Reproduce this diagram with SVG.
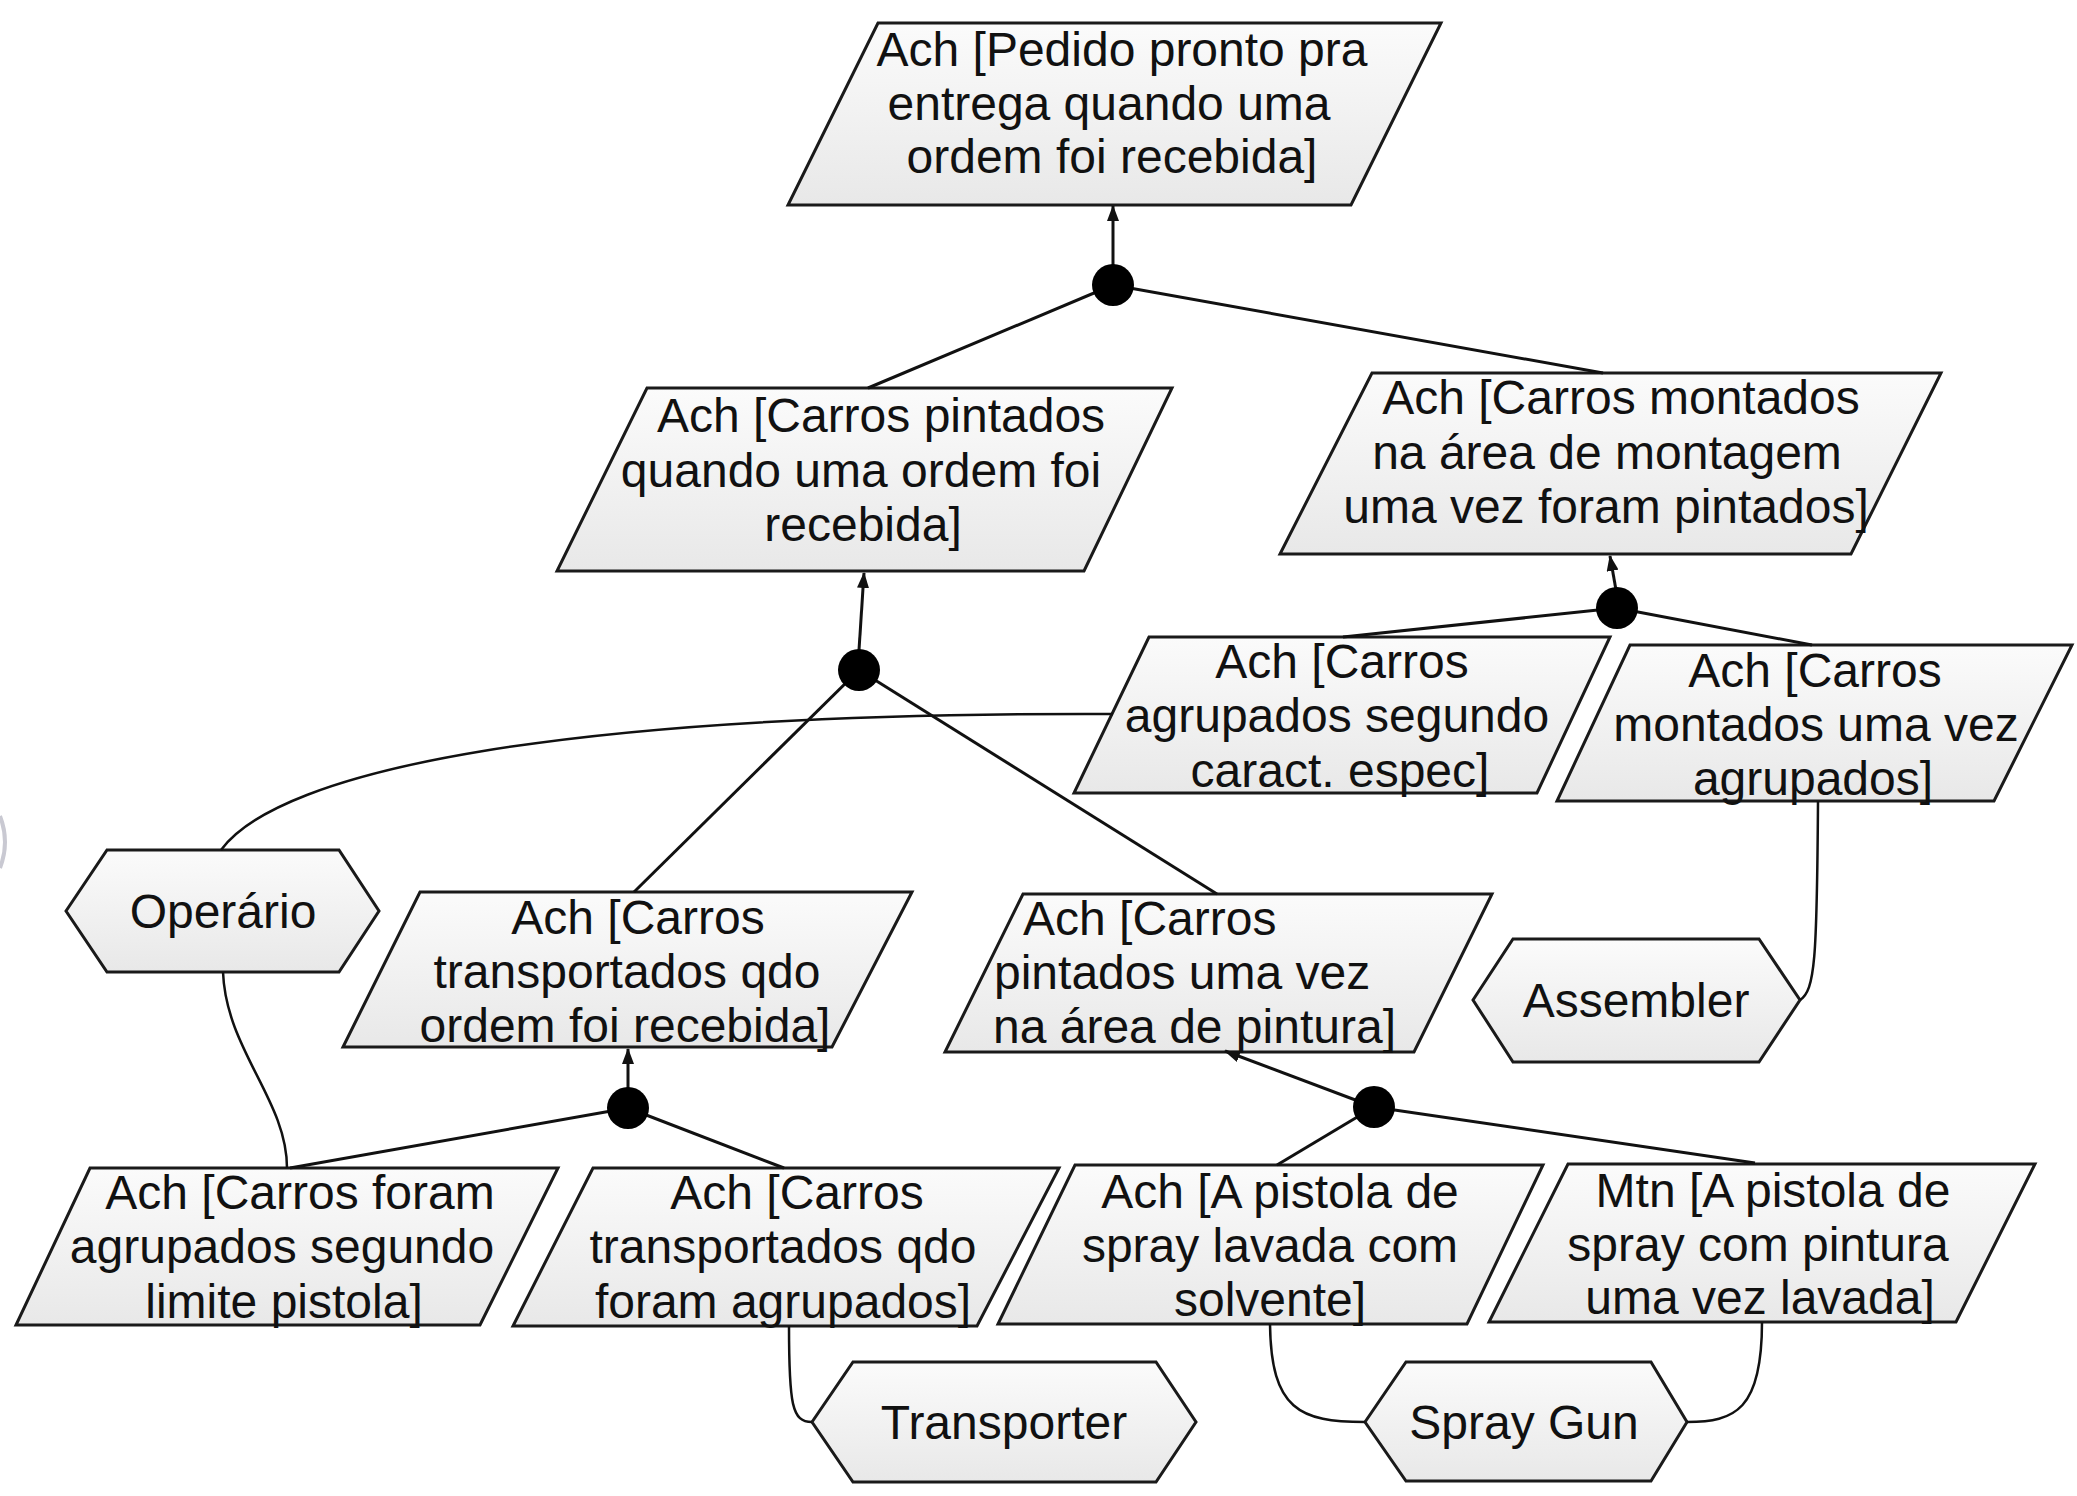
<svg xmlns="http://www.w3.org/2000/svg" width="2077" height="1496" viewBox="0 0 2077 1496">
  <defs>
    <linearGradient id="fillGrad" x1="0" y1="0" x2="0" y2="1">
      <stop offset="0" stop-color="#fbfbfb"/>
      <stop offset="1" stop-color="#e8e8e8"/>
    </linearGradient>
    <marker id="arrow" markerUnits="userSpaceOnUse" markerWidth="16" markerHeight="12" refX="15" refY="6" orient="auto">
      <path d="M0,0 L16,6 L0,12 z" fill="#111"/>
    </marker>
    <style>
      .shape { fill: url(#fillGrad); stroke: #1a1a1a; stroke-width: 3; stroke-linejoin: miter; }
      .lbl { font-family: "Liberation Sans", Arial, sans-serif; font-size: 48px; fill: #111; text-anchor: middle; }
      .lbl-left { text-anchor: start; }
      .link { fill: none; stroke: #111; stroke-width: 3; }
      .actor-link { fill: none; stroke: #111; stroke-width: 2.5; }
      .arrow { marker-end: url(#arrow); }
      .junction { fill: #000; }
    </style>
  </defs>

  <rect width="2077" height="1496" fill="#ffffff"/>

  <!-- faint arc cut by the left border -->
  <path d="M0,816 Q10,842 0,868" fill="none" stroke="#c9c9d2" stroke-width="4"/>

  <!-- goals -->
  <g id="goal-pedido-pronto">
    <polygon class="shape" points="878,23 1441,23 1351,205 788,205"/>
    <text class="lbl" x="1122" y="66">Ach [Pedido pronto pra</text>
    <text class="lbl" x="1109" y="120">entrega quando uma</text>
    <text class="lbl" x="1112" y="173">ordem foi recebida]</text>
  </g>

  <g id="goal-carros-pintados">
    <polygon class="shape" points="647,388 1172,388 1084,571 557,571"/>
    <text class="lbl" x="881" y="432">Ach [Carros pintados</text>
    <text class="lbl" x="861" y="487">quando uma ordem foi</text>
    <text class="lbl" x="863" y="541">recebida]</text>
  </g>

  <g id="goal-carros-montados">
    <polygon class="shape" points="1372,373 1941,373 1851,554 1280,554"/>
    <text class="lbl" x="1621" y="414">Ach [Carros montados</text>
    <text class="lbl" x="1607" y="469">na área de montagem</text>
    <text class="lbl" x="1606" y="523">uma vez foram pintados]</text>
  </g>

  <g id="goal-agrupados-caract">
    <polygon class="shape" points="1149,637 1610,637 1537,793 1074,793"/>
    <text class="lbl" x="1342" y="678">Ach [Carros</text>
    <text class="lbl" x="1337" y="732">agrupados segundo</text>
    <text class="lbl" x="1340" y="787">caract. espec]</text>
  </g>

  <g id="goal-montados-agrupados">
    <polygon class="shape" points="1630,645 2072,645 1994,801 1557,801"/>
    <text class="lbl" x="1815" y="687">Ach [Carros</text>
    <text class="lbl" x="1816" y="741">montados uma vez</text>
    <text class="lbl" x="1813" y="795">agrupados]</text>
  </g>

  <g id="goal-transportados-ordem">
    <polygon class="shape" points="420,892 912,892 832,1047 343,1047"/>
    <text class="lbl" x="638" y="934">Ach [Carros</text>
    <text class="lbl" x="627" y="988">transportados qdo</text>
    <text class="lbl" x="625" y="1042">ordem foi recebida]</text>
  </g>

  <g id="goal-pintados-area">
    <polygon class="shape" points="1023,894 1492,894 1414,1052 945,1052"/>
    <text class="lbl lbl-left" x="1023" y="935">Ach [Carros</text>
    <text class="lbl lbl-left" x="994" y="989">pintados uma vez</text>
    <text class="lbl lbl-left" x="993" y="1043">na área de pintura]</text>
  </g>

  <g id="goal-agrupados-limite">
    <polygon class="shape" points="90,1168 558,1168 480,1325 16,1325"/>
    <text class="lbl" x="300" y="1209">Ach [Carros foram</text>
    <text class="lbl" x="282" y="1263">agrupados segundo</text>
    <text class="lbl" x="284" y="1318">limite pistola]</text>
  </g>

  <g id="goal-transportados-agrupados">
    <polygon class="shape" points="593,1168 1059,1168 977,1326 513,1326"/>
    <text class="lbl" x="797" y="1209">Ach [Carros</text>
    <text class="lbl" x="783" y="1263">transportados qdo</text>
    <text class="lbl" x="783" y="1318">foram agrupados]</text>
  </g>

  <g id="goal-pistola-lavada">
    <polygon class="shape" points="1075,1165 1543,1165 1467,1324 998,1324"/>
    <text class="lbl" x="1280" y="1208">Ach [A pistola de</text>
    <text class="lbl" x="1270" y="1262">spray lavada com</text>
    <text class="lbl" x="1270" y="1316">solvente]</text>
  </g>

  <g id="goal-pistola-pintura">
    <polygon class="shape" points="1568,1164 2035,1164 1956,1322 1489,1322"/>
    <text class="lbl" x="1773" y="1207">Mtn [A pistola de</text>
    <text class="lbl" x="1758" y="1261">spray com pintura</text>
    <text class="lbl" x="1760" y="1314">uma vez lavada]</text>
  </g>

  <!-- agents -->
  <g id="agent-operario">
    <polygon class="shape" points="66,911 107,850 339,850 379,911 339,972 107,972"/>
    <text class="lbl" x="223" y="928">Operário</text>
  </g>

  <g id="agent-assembler">
    <polygon class="shape" points="1473,1000 1513,939 1759,939 1800,1000 1759,1062 1513,1062"/>
    <text class="lbl" x="1636" y="1017">Assembler</text>
  </g>

  <g id="agent-transporter">
    <polygon class="shape" points="812,1422 853,1362 1156,1362 1196,1422 1156,1482 853,1482"/>
    <text class="lbl" x="1004" y="1439">Transporter</text>
  </g>

  <g id="agent-spray-gun">
    <polygon class="shape" points="1365,1422 1406,1362 1651,1362 1687,1422 1651,1481 1406,1481"/>
    <text class="lbl" x="1524" y="1439">Spray Gun</text>
  </g>

  <!-- refinement links, responsibility links and AND junctions -->
  <g id="connectors">
    <line class="link arrow" x1="1113" y1="265" x2="1113" y2="206"/>
    <line class="link" x1="1113" y1="285" x2="868" y2="388"/>
    <line class="link" x1="1113" y1="285" x2="1603" y2="373"/>

    <line class="link arrow" x1="859" y1="650" x2="864" y2="573"/>
    <line class="link" x1="859" y1="670" x2="634" y2="892"/>
    <line class="link" x1="859" y1="670" x2="1217" y2="894"/>

    <line class="link arrow" x1="1616" y1="590" x2="1610" y2="556"/>
    <line class="link" x1="1617" y1="608" x2="1343" y2="637"/>
    <line class="link" x1="1617" y1="608" x2="1812" y2="645"/>

    <line class="link arrow" x1="628" y1="1088" x2="628" y2="1049"/>
    <line class="link" x1="628" y1="1108" x2="290" y2="1168"/>
    <line class="link" x1="628" y1="1108" x2="784" y2="1168"/>

    <line class="link arrow" x1="1374" y1="1107" x2="1225" y2="1051"/>
    <line class="link" x1="1374" y1="1107" x2="1277" y2="1165"/>
    <line class="link" x1="1374" y1="1107" x2="1755" y2="1163"/>

    <path class="actor-link" d="M221,850 C280,770 560,712 1113,714"/>
    <path class="actor-link" d="M223,972 C226,1050 287,1100 287,1168"/>
    <path class="actor-link" d="M789,1326 C789,1405 792,1422 812,1422"/>
    <path class="actor-link" d="M1270,1324 C1271,1410 1300,1422 1365,1422"/>
    <path class="actor-link" d="M1762,1322 C1762,1410 1735,1422 1687,1422"/>
    <path class="actor-link" d="M1818,801 C1817,960 1815,990 1800,1000"/>

    <circle class="junction" cx="1113" cy="285" r="21"/>
    <circle class="junction" cx="859" cy="670" r="21"/>
    <circle class="junction" cx="1617" cy="608" r="21"/>
    <circle class="junction" cx="628" cy="1108" r="21"/>
    <circle class="junction" cx="1374" cy="1107" r="21"/>
  </g>
</svg>
